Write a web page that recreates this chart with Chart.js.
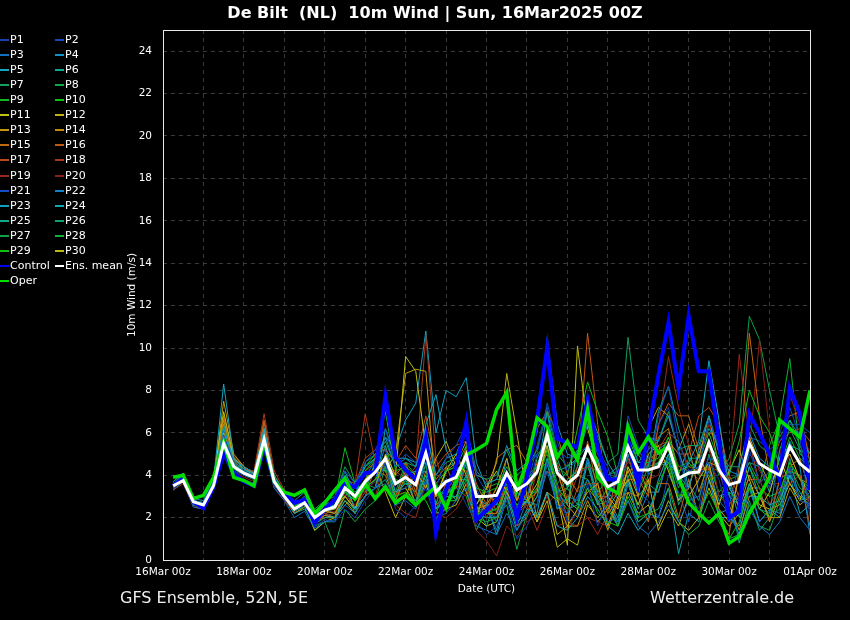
<!DOCTYPE html>
<html>
<head>
<meta charset="utf-8">
<script src="https://cdn.jsdelivr.net/npm/chart.js@4.4.1/dist/chart.umd.min.js"></script>
<style>
  html, body { margin: 0; padding: 0; background: #000; }
  #wrap { position: relative; width: 850px; height: 620px; background: #000; overflow: hidden; font-family: 'DejaVu Sans', sans-serif; color: #fff; }
  #chart { position: absolute; left: 0; top: 0; }
  .title { position: absolute; left: 0; width: 870px; top: 3px; text-align: center; font-weight: bold; font-size: 16px; white-space: pre; }
  .foot { position: absolute; top: 588px; font-size: 16px; white-space: pre; color: #eee; }
  .lg { position: absolute; font-size: 11px; line-height: 14px; white-space: pre; }
  .lg i { position: absolute; left: -10px; top: 6px; width: 9px; height: 2px; }
</style>
</head>
<body>
<div id="wrap">
  <canvas id="chart" width="850" height="620"></canvas>
  <div class="title">De Bilt  (NL)  10m Wind | Sun, 16Mar2025 00Z</div>
  <div class="foot" style="left:120px">GFS Ensemble, 52N, 5E</div>
  <div class="foot" style="left:650px">Wetterzentrale.de</div>
  <div id="legend"></div>
</div>
<script>
// 6-hourly steps from 16Mar 06z to 01Apr 00z (hours after 16Mar 00z)
const hours = Array.from({ length: 64 }, (_, i) => 6 * (i + 1));
const dateLabels = ['16Mar 00z', '18Mar 00z', '20Mar 00z', '22Mar 00z', '24Mar 00z',
                    '26Mar 00z', '28Mar 00z', '30Mar 00z', '01Apr 00z'];

// Ensemble members (m/s), four values per day
const p1 = [3.4,3.8,2.6,2.5, 3.4,5.2,4.2,4.0, 3.8,5.4,3.5,2.9, 2.3,2.6,1.6,1.9,
            1.8,2.4,2.0,2.8, 3.4,4.6,2.4,2.0, 2.6,3.4,1.9,2.4, 3.6,2.6,1.8,1.2,
            1.6,2.8,1.0,1.6, 2.6,4.6,3.4,1.8, 2.2,3.6,1.6,2.8, 4.4,6.0,3.2,5.2,
            6.4,7.2,5.0,3.0, 2.4,4.6,3.8,1.8, 2.6,5.2,3.6,4.2, 3.0,4.4,2.8,2.6];
const p2 = [3.6,4.0,2.8,2.7, 3.8,5.9,4.6,4.2, 4.0,5.8,3.9,3.1, 2.6,3.0,2.2,2.4,
            3.0,4.2,3.6,4.6, 5.2,6.2,4.4,5.0, 4.6,5.2,3.4,4.8, 5.4,6.4,4.0,3.2,
            2.8,4.0,2.4,3.0, 5.0,7.4,5.6,4.2, 4.8,6.6,5.4,3.2, 3.6,6.8,5.4,4.0,
            6.8,8.2,5.6,4.2, 4.4,6.6,5.4,3.6, 2.8,5.0,4.4,3.4, 6.0,7.2,5.8,2.0];
const p3 = [3.3,3.7,2.5,2.4, 3.3,4.9,3.9,3.8, 3.6,5.2,3.4,2.8, 2.0,2.3,1.5,1.8,
            1.9,2.6,2.2,3.0, 3.4,3.6,2.6,2.8, 2.4,3.8,2.0,2.2, 2.8,3.4,1.6,1.4,
            1.2,2.2,1.4,2.2, 2.6,4.2,2.6,2.2, 3.0,3.8,2.8,1.8, 2.0,2.8,1.6,1.2,
            1.8,2.6,1.8,2.8, 3.0,4.2,2.8,2.2, 1.2,2.4,1.6,1.2, 1.8,3.0,2.0,1.4];
const p4 = [3.7,4.1,2.9,2.8, 3.9,6.2,4.7,4.4, 4.1,6.0,3.9,3.2, 2.8,3.2,2.2,2.6,
            2.8,4.0,3.4,4.4, 4.8,5.8,4.4,4.8, 4.4,6.2,4.0,4.8, 5.0,6.2,4.2,3.6,
            3.8,5.4,4.2,4.6, 6.0,10.5,6.4,5.0, 4.8,6.4,5.0,4.0, 4.4,6.2,4.6,5.2,
            5.6,6.8,5.2,3.4, 5.2,6.8,5.0,4.2, 4.0,6.0,4.8,4.4, 4.2,5.6,4.4,1.2];
const p5 = [3.5,3.9,2.8,2.7, 3.8,8.3,4.8,4.3, 4.0,6.2,3.8,3.1, 2.4,2.9,2.0,2.4,
            2.6,3.6,2.4,3.0, 3.4,4.6,3.2,3.6, 3.6,6.4,7.8,5.2, 4.2,4.8,3.0,2.6,
            2.6,3.8,2.4,2.8, 2.0,3.2,1.6,1.4, 2.0,3.0,2.4,1.6, 1.2,2.2,1.4,2.0,
            3.8,5.0,3.6,4.6, 5.6,9.4,6.6,3.4, 2.6,4.4,3.0,2.6, 2.8,4.0,3.2,2.4];
const p6 = [3.4,3.9,2.7,2.5, 3.5,5.8,4.5,4.2, 3.9,5.9,3.8,3.0, 2.2,2.4,1.7,2.0,
            2.0,2.8,2.4,3.0, 3.4,3.8,2.8,3.0, 2.8,4.0,2.4,3.0, 3.0,4.0,2.2,2.0,
            2.0,3.0,1.8,2.2, 3.0,4.8,3.2,2.6, 5.2,7.2,6.0,4.6, 3.8,5.6,4.4,4.4,
            7.0,8.2,6.2,4.8, 4.2,5.6,4.4,3.6, 2.0,3.6,2.4,2.2, 5.2,6.6,5.8,5.0];
const p7 = [3.6,4.0,2.8,2.7, 3.7,6.3,4.6,4.3, 4.0,6.0,3.9,3.2, 2.6,3.0,2.4,2.8,
            3.0,4.4,3.6,4.4, 4.8,5.6,4.4,4.6, 4.4,6.0,4.0,4.6, 4.8,6.0,4.0,3.8,
            4.0,5.2,4.0,4.4, 5.2,7.0,5.0,4.4, 5.2,6.8,5.8,4.6, 5.0,10.5,6.6,5.8,
            5.6,7.0,5.2,5.4, 5.4,6.8,5.2,4.4, 4.4,6.4,5.4,5.0, 4.8,6.2,5.2,4.8];
const p8 = [3.5,3.9,2.7,2.6, 3.6,5.7,4.4,4.1, 3.9,5.8,3.7,3.0, 2.3,2.5,1.6,1.8,
            0.6,2.4,1.8,2.4, 2.8,4.4,2.8,3.0, 2.6,3.8,2.4,2.8, 2.8,3.8,2.0,1.8,
            2.0,2.6,0.5,2.2, 3.0,4.6,3.0,2.4, 2.6,3.8,3.0,2.4, 1.6,2.8,1.8,2.2,
            2.4,3.4,1.8,1.2, 1.6,2.8,1.8,1.0, 1.2,2.6,1.6,1.4, 2.8,4.4,3.4,3.0];
const p9 = [3.4,3.8,2.6,2.5, 3.6,5.5,4.3,4.0, 3.8,5.6,3.6,2.9, 2.6,2.6,2.0,2.6,
            2.8,5.3,3.6,4.2, 4.8,7.0,4.2,4.4, 3.8,5.4,3.6,4.2, 4.4,5.4,3.4,3.2,
            3.4,4.4,3.6,3.8, 4.4,6.2,4.4,4.0, 6.2,8.4,7.0,5.8, 4.0,5.8,4.6,4.6,
            4.8,5.8,4.2,4.4, 4.6,6.0,4.6,4.0, 5.6,8.0,6.8,6.0, 4.4,5.8,4.8,4.4];
const p10 = [3.6,4.1,2.8,2.7, 3.8,5.7,4.5,4.2, 4.0,5.9,3.8,3.1, 2.5,2.8,2.1,2.6,
             2.4,3.2,2.8,3.4, 3.8,4.4,3.0,3.2, 2.8,4.0,2.4,2.8, 3.0,4.0,2.2,2.2,
             2.4,3.4,2.6,2.8, 3.4,5.2,3.4,2.8, 2.4,3.4,2.2,1.8, 1.6,3.0,2.0,2.2,
             3.6,4.6,3.0,3.2, 2.2,3.2,2.2,1.0, 1.8,3.4,2.4,2.0, 3.2,4.6,3.8,3.4];
const p11 = [3.5,4.0,2.8,2.6, 3.9,7.0,4.8,4.3, 4.0,5.8,3.8,3.0, 2.3,2.6,1.4,1.8,
             2.0,2.8,2.2,3.0, 3.4,5.0,4.0,9.6, 8.9,5.3,3.0,4.2, 5.0,4.0,2.6,3.4,
             4.2,3.2,2.2,2.8, 3.6,5.4,3.0,0.7, 10.1,6.2,4.6,3.0, 2.4,4.4,3.4,5.0,
             5.4,4.2,2.8,3.4, 5.0,3.8,2.6,4.2, 5.2,3.8,2.4,3.2, 4.8,3.6,2.8,4.4];
const p12 = [3.4,3.8,2.7,2.5, 3.5,6.0,4.6,4.2, 3.9,5.7,3.8,3.0, 2.4,2.7,2.0,2.3,
             2.2,3.0,2.4,3.8, 4.4,3.2,2.0,3.0, 4.2,3.4,4.8,5.6, 4.4,3.2,2.0,3.4,
             4.6,8.8,6.0,3.0, 1.8,3.2,1.2,1.6, 2.4,3.2,3.6,1.6, 3.0,3.8,2.6,3.8,
             1.4,2.4,1.6,3.0, 3.8,4.6,2.4,1.8, 4.0,5.8,4.6,3.6, 4.4,5.0,3.8,3.6];
const p13 = [3.5,3.9,2.7,2.6, 3.7,7.5,5.0,4.4, 4.1,6.1,3.9,3.2, 2.5,2.8,2.0,2.3,
             2.6,3.0,2.4,3.6, 4.4,4.2,5.0,8.8, 9.0,8.9,3.0,4.2, 4.6,5.6,2.4,2.6,
             3.4,4.8,2.8,4.0, 2.0,3.2,2.8,1.6, 1.6,2.8,1.8,2.4, 3.2,4.2,3.0,6.2,
             7.2,6.8,5.2,6.4, 4.8,6.8,4.4,3.8, 2.4,4.0,3.0,2.0, 2.0,3.4,2.6,3.0];
const p14 = [3.4,3.8,2.6,2.5, 3.6,6.6,4.7,4.2, 3.9,5.8,3.7,3.0, 2.2,2.5,1.8,2.1,
             2.0,2.6,3.0,3.8, 4.2,4.0,2.8,4.0, 2.6,4.2,3.4,2.8, 2.8,5.2,3.2,2.2,
             2.2,3.4,3.6,2.8, 3.2,5.8,4.2,2.6, 2.0,3.4,2.8,1.4, 2.8,4.2,4.4,3.2,
             5.8,6.2,4.0,5.4, 3.2,4.6,4.4,2.6, 1.4,3.0,3.2,1.8, 3.0,4.4,4.8,3.2];
const p15 = [3.6,4.0,2.8,2.7, 3.7,6.8,4.9,4.4, 4.0,6.5,3.9,3.2, 2.5,2.9,2.3,2.6,
             2.8,3.2,3.6,4.2, 4.6,4.6,4.0,4.6, 3.2,5.6,3.8,4.4, 3.4,5.4,3.6,2.6,
             4.8,5.2,5.4,4.6, 6.2,7.0,6.0,4.0, 3.2,5.6,3.2,2.2, 2.8,3.2,3.0,1.8,
             3.6,3.6,2.0,3.8, 2.0,4.4,2.0,1.2, 4.4,10.7,6.8,4.0, 6.4,6.8,7.0,4.6];
const p16 = [3.4,3.8,2.6,2.5, 3.5,5.6,4.4,4.1, 3.8,5.7,3.6,2.9, 2.2,2.5,1.8,2.0,
             2.0,3.6,2.4,3.0, 4.4,4.2,3.0,4.2, 3.0,5.4,2.6,3.0, 4.4,4.2,3.2,2.4,
             3.4,3.4,3.6,2.8, 4.6,5.2,4.6,2.8, 4.4,10.7,6.4,2.8, 3.2,3.8,3.8,3.0,
             6.4,7.4,6.8,6.8, 5.2,6.0,5.8,3.6, 2.8,3.4,3.4,1.8, 3.8,4.2,4.0,1.6];
const p17 = [3.3,3.7,2.6,2.4, 3.5,6.7,4.6,4.0, 3.8,6.6,3.8,3.0, 2.2,2.5,1.8,2.1,
             2.6,3.8,3.6,4.8, 5.2,5.2,4.6,5.4, 4.8,6.8,4.4,5.0, 5.4,5.6,4.0,3.8,
             2.2,3.8,1.6,2.0, 3.4,4.2,3.6,2.0, 3.4,3.6,3.6,2.2, 4.2,5.4,5.2,4.4,
             5.4,5.6,5.0,5.0, 6.8,7.2,6.4,4.0, 3.0,5.6,3.6,4.2, 5.6,6.0,6.2,5.6];
const p18 = [3.4,3.8,2.7,2.6, 3.6,6.0,4.6,4.3, 4.2,6.9,4.2,3.3, 2.6,2.9,2.2,2.5,
             2.8,3.4,3.6,6.9, 4.6,4.4,4.2,3.8, 4.4,10.6,4.8,3.2, 4.0,4.0,3.2,2.0,
             2.8,3.2,3.0,2.4, 4.2,5.0,4.2,2.6, 4.0,4.4,4.2,2.4, 4.0,4.6,4.4,3.6,
             5.2,6.0,5.6,4.4, 4.2,4.4,4.2,2.6, 3.2,3.8,3.8,2.6, 3.4,3.6,4.0,2.6];
const p19 = [3.3,3.6,2.5,2.4, 3.3,5.0,4.0,3.8, 3.6,5.4,3.4,2.8, 2.2,2.5,1.8,2.1,
             2.2,3.0,2.5,3.2, 3.0,4.8,2.6,2.2, 2.0,3.6,3.2,2.4, 3.8,3.6,1.8,2.6,
             2.0,3.0,2.2,2.6, 1.4,2.6,3.2,1.4, 2.4,2.0,1.2,2.2, 2.8,4.8,3.6,4.6,
             6.2,9.6,7.2,5.4, 4.6,6.4,5.2,3.8, 9.7,5.8,4.2,3.6, 3.6,5.0,3.8,2.8];
const p20 = [3.4,3.8,2.6,2.5, 3.4,5.4,4.2,3.9, 3.7,5.5,3.5,2.9, 2.3,2.6,1.9,2.2,
             2.3,3.1,2.6,3.3, 3.7,4.4,3.1,3.2, 2.6,3.8,2.2,2.0, 2.4,3.2,1.4,0.9,
             0.2,1.6,1.1,1.8, 2.1,3.0,1.6,1.8, 1.6,2.0,1.8,1.6, 2.6,4.4,3.4,3.8,
             4.0,5.6,4.4,4.2, 3.8,5.4,3.0,2.6, 3.0,5.2,10.4,6.0, 4.8,7.8,6.4,5.0];
const p21 = [3.5,3.9,2.7,2.6, 3.6,5.4,4.3,4.0, 3.9,5.6,3.7,3.0, 2.4,2.6,1.9,2.3,
             2.7,3.6,3.4,4.0, 4.6,5.2,3.2,3.4, 3.8,4.2,3.4,3.8, 3.4,5.0,3.4,2.2,
             2.0,3.8,3.0,3.4, 5.4,7.2,5.2,4.8, 5.0,5.4,5.2,4.4, 2.8,5.4,3.2,2.8,
             2.0,4.0,3.2,1.8, 3.8,4.8,4.6,2.6, 4.6,5.8,5.6,5.2, 5.6,6.4,6.4,6.0];
const p22 = [3.6,4.0,2.8,2.6, 3.6,5.8,4.5,4.2, 4.0,5.8,3.8,3.1, 2.5,2.8,2.0,2.4,
             2.2,3.0,3.4,3.2, 3.8,5.4,3.0,4.2, 2.6,5.0,2.4,3.6, 2.8,4.8,2.0,2.6,
             1.4,3.2,1.6,2.8, 2.6,4.8,2.4,3.0, 2.8,4.8,3.0,3.0, 1.6,3.6,2.0,3.2,
             3.2,4.8,2.8,3.8, 2.0,3.8,2.2,2.4, 1.2,3.4,1.8,2.4, 2.2,4.2,2.8,3.2];
const p23 = [3.4,3.8,2.6,2.4, 3.5,6.4,4.6,4.2, 3.8,5.6,3.6,2.9, 2.3,2.6,1.8,2.2,
             2.0,3.0,3.4,3.4, 4.6,5.8,5.2,6.6, 7.4,10.8,6.0,8.0, 7.7,8.6,4.6,3.4,
             2.6,4.8,2.8,4.0, 4.0,7.0,4.2,4.4, 4.8,5.4,4.8,3.2, 2.6,5.0,3.0,3.6,
             5.2,5.6,5.0,4.0, 4.4,5.4,4.8,3.0, 2.6,3.0,3.0,2.0, 3.8,4.2,4.0,2.8];
const p24 = [3.5,3.9,2.7,2.5, 3.6,5.6,4.4,4.1, 3.9,6.6,3.8,3.0, 2.4,2.7,1.8,2.1,
             2.0,3.6,2.4,3.0, 3.4,6.2,4.8,4.8, 4.6,5.0,3.0,3.2, 3.4,5.0,2.2,2.6,
             1.2,3.0,1.4,2.4, 2.2,4.6,2.4,2.8, 2.4,4.6,2.6,2.8, 1.8,3.8,1.8,2.2,
             2.0,3.4,0.3,2.2, 1.8,3.8,2.0,2.0, 1.6,3.6,1.8,2.4, 2.0,4.0,2.2,2.6];
const p25 = [3.6,4.0,2.8,2.7, 3.8,6.0,4.6,4.3, 4.0,6.2,4.0,3.2, 2.6,2.9,2.2,2.6,
             2.8,4.2,3.0,4.6, 5.0,5.2,4.6,4.0, 4.2,4.6,3.4,3.0, 3.8,3.8,2.6,1.6,
             3.0,3.2,3.2,2.8, 4.8,5.8,4.8,3.4, 4.4,5.2,4.8,3.0, 4.2,5.2,5.0,4.2,
             4.6,4.6,4.0,3.4, 5.0,6.2,5.4,3.6, 3.6,4.6,4.4,3.2, 4.8,5.4,5.2,4.0];
const p26 = [3.4,3.8,2.6,2.5, 3.6,5.8,4.4,4.0, 3.8,5.6,3.6,2.9, 2.3,2.6,1.4,1.8,
             1.8,3.4,2.2,3.6, 3.4,4.8,2.8,3.8, 2.6,4.6,2.2,3.4, 2.8,4.6,2.0,2.6,
             1.8,3.6,2.0,3.2, 3.2,5.8,3.2,3.4, 2.6,4.8,2.8,3.0, 2.0,4.0,2.4,3.6,
             3.2,5.0,2.6,3.6, 2.8,5.0,3.0,3.2, 0.8,2.8,1.4,2.0, 2.4,4.8,2.8,3.0];
const p27 = [3.5,3.9,2.7,2.6, 3.7,5.9,4.5,4.2, 4.0,5.8,3.8,3.1, 2.5,2.8,2.1,2.4,
             2.6,3.6,3.2,3.8, 4.8,4.4,3.2,4.6, 4.0,4.4,2.6,4.4, 4.6,4.4,2.6,3.6,
             3.8,3.8,2.8,4.4, 5.0,5.4,3.6,4.2, 4.8,4.8,3.6,4.0, 4.2,4.8,3.6,4.8,
             5.0,4.8,3.4,4.8, 4.8,5.2,4.0,4.8, 6.4,11.5,10.4,8.0, 5.8,6.6,5.4,4.4];
const p28 = [3.6,4.0,2.8,2.6, 3.7,6.2,4.6,4.2, 4.1,6.0,3.9,3.1, 2.5,2.8,2.1,2.3,
             2.6,3.0,3.6,3.2, 4.6,4.2,3.0,4.4, 4.0,4.2,2.6,4.2, 4.4,4.2,2.2,3.4,
             3.6,3.4,2.4,4.0, 4.4,5.0,3.2,3.8, 4.2,4.4,3.2,3.8, 4.0,4.4,3.2,4.4,
             4.6,4.4,2.8,4.2, 4.2,4.4,3.2,3.8, 4.0,4.6,3.6,5.4, 6.6,9.5,5.0,4.6];
const p29 = [3.4,3.8,2.6,2.5, 3.5,5.6,4.4,4.1, 3.8,5.6,3.7,3.0, 2.4,2.7,2.0,2.3,
             2.5,3.6,3.4,4.4, 5.0,5.4,3.8,3.6, 3.2,2.8,1.8,3.2, 3.4,3.0,1.4,2.4,
             2.4,3.4,2.6,3.0, 4.2,4.6,2.8,3.4, 4.0,3.8,2.6,3.4, 3.6,3.6,2.6,4.0,
             4.6,5.8,4.4,4.6, 4.0,4.0,2.8,3.2, 2.8,4.4,3.4,3.0, 3.2,4.6,3.8,3.2];
const p30 = [3.5,3.9,2.8,2.6, 3.7,6.4,4.8,4.4, 4.1,6.2,4.0,3.2, 2.5,2.8,2.0,2.3,
             2.4,3.2,2.8,3.4, 3.8,4.4,3.2,3.4, 2.6,3.6,2.2,2.4, 2.6,3.6,2.0,1.6,
             1.8,3.2,2.4,2.8, 1.8,2.8,0.6,1.0, 0.7,2.6,2.0,2.6, 1.6,3.2,2.2,2.6,
             1.6,2.8,1.8,1.4, 2.0,3.4,2.2,1.6, 2.2,3.6,2.6,2.4, 2.6,3.6,3.0,2.6];

const control = [3.5,3.85,2.75,2.45, 3.45,5.05,4.1,3.7, 3.5,5.35,3.7,3.15, 2.7,2.85,1.75,2.4,
                 2.85,3.6,3.45,4.1, 4.15,7.7,4.85,4.25, 3.8,5.75,1.3,3.3, 4.4,6.5,1.9,2.35,
                 2.8,4.0,2.0,3.9, 6.6,10.0,5.75,5.5, 5.3,7.55,5.3,3.8, 3.8,5.65,3.6,6.0,
                 8.7,11.2,8.1,11.5, 8.9,8.9,5.6,2.0, 2.3,6.9,6.0,5.0, 3.8,8.1,6.9,3.3];
const ensMean = [3.5,3.75,2.75,2.6, 3.5,5.5,4.4,4.1, 3.9,5.7,3.7,3.0, 2.4,2.7,2.0,2.35,
                 2.5,3.4,3.0,3.7, 4.15,4.8,3.6,3.9, 3.55,5.05,3.2,3.7, 3.9,4.95,3.0,3.0,
                 3.05,4.1,3.3,3.6, 4.15,5.9,4.1,3.6, 4.0,5.3,4.25,3.45, 3.7,5.35,4.25,4.25,
                 4.4,5.4,3.85,4.1, 4.15,5.55,4.25,3.55, 3.7,5.5,4.55,4.25, 4.0,5.35,4.55,4.15];
const oper = [3.9,4.0,2.9,3.05, 3.9,5.55,3.9,3.75, 3.5,5.55,3.7,3.2, 3.05,3.3,2.2,2.7,
              3.3,3.85,2.9,3.6, 2.9,3.45,2.7,3.05, 2.6,3.05,3.45,2.45, 3.75,4.95,5.2,5.5,
              7.1,7.9,3.3,4.6, 6.7,6.3,4.85,5.6, 4.7,7.1,3.9,3.4, 3.15,6.3,5.05,5.8,
              5.05,5.35,3.9,2.7, 2.2,1.75,2.2,0.8, 1.1,2.2,3.0,3.9, 6.6,6.2,5.8,8.0];

const members = [p1, p2, p3, p4, p5, p6, p7, p8, p9, p10, p11, p12, p13, p14, p15,
                 p16, p17, p18, p19, p20, p21, p22, p23, p24, p25, p26, p27, p28, p29, p30];
const memberColors = ['#1240b0', '#1248b8', '#1270c0', '#1290c8', '#10a8c0', '#10a890',
                      '#10a060', '#10a840', '#10b820', '#10c010', '#c0c010', '#c0b010',
                      '#c09810', '#c08810', '#c06810', '#c05810', '#b84818', '#a83818',
                      '#982818', '#882018', '#1250c8', '#1280c8', '#10a0c0', '#10a8b0',
                      '#10a888', '#10a070', '#10a048', '#10b030', '#10c010', '#b8b810'];

const toPoints = (vals) => vals.map((v, i) => ({ x: hours[i], y: v }));

const datasets = members.map((m, k) => ({
    label: 'P' + (k + 1),
    data: toPoints(m),
    borderColor: memberColors[k],
    borderWidth: 1,
    order: 10 + k
}));
datasets.push({ label: 'Control', data: toPoints(control), borderColor: '#0000ff', borderWidth: 4, order: 3 });
datasets.push({ label: 'Ens. mean', data: toPoints(ensMean), borderColor: '#ffffff', borderWidth: 3, order: 1 });
datasets.push({ label: 'Oper', data: toPoints(oper), borderColor: '#00dd00', borderWidth: 3.5, order: 2 });

// white frame round the plot area
const framePlugin = {
    id: 'frame',
    afterDraw(chart) {
        const { ctx, chartArea: a } = chart;
        ctx.save();
        ctx.strokeStyle = '#e8e8e8';
        ctx.lineWidth = 1;
        ctx.strokeRect(a.left + 0.5, a.top + 0.5, a.right - a.left, a.bottom - a.top);
        ctx.restore();
    }
};

Chart.defaults.font.family = "'DejaVu Sans', sans-serif";
Chart.defaults.color = '#ffffff';

new Chart(document.getElementById('chart'), {
    type: 'line',
    data: { datasets },
    plugins: [framePlugin],
    options: {
        responsive: false,
        animation: false,
        layout: { padding: { left: 122, right: 40, top: 30, bottom: 20 } },
        elements: { point: { radius: 0 }, line: { tension: 0 } },
        plugins: { legend: { display: false }, tooltip: { enabled: false } },
        scales: {
            x: {
                type: 'linear',
                min: 0,
                max: 384,
                afterFit: (s) => { s.height = 40; },
                ticks: {
                    stepSize: 24,
                    autoSkip: false,
                    maxRotation: 0,
                    padding: 6,
                    font: { size: 10.5 },
                    callback: (v) => (v % 48 === 0 ? dateLabels[v / 48] : '')
                },
                grid: { color: '#3a3a3a', drawTicks: false },
                border: { display: false, dash: [4, 4] },
                title: { display: true, text: 'Date (UTC)', font: { size: 10.5 }, padding: { top: 2, bottom: 4 } }
            },
            y: {
                min: 0,
                max: 25,
                afterFit: (s) => { s.width = 41; },
                afterBuildTicks: (s) => { s.ticks = s.ticks.filter((t) => t.value % 2 === 0); },
                ticks: { stepSize: 2, padding: 11, font: { size: 10.5 } },
                grid: { color: '#3a3a3a', drawTicks: false },
                border: { display: false, dash: [4, 4] },
                title: { display: true, text: '10m Wind (m/s)', font: { size: 10.5 } }
            }
        }
    }
});

// legend, two entries per row like the original
const legend = document.getElementById('legend');
const legendItems = members.map((m, k) => ({ name: 'P' + (k + 1), color: memberColors[k] }));
legendItems.push({ name: 'Control', color: '#0000ff' });
legendItems.push({ name: 'Ens. mean', color: '#ffffff' });
legendItems.push({ name: 'Oper', color: '#00dd00' });
legendItems.forEach((it, k) => {
    const row = Math.floor(k / 2), col = k % 2;
    const d = document.createElement('div');
    d.className = 'lg';
    d.style.left = (col === 0 ? 10 : 65) + 'px';
    d.style.top = (33 + row * 15.06) + 'px';
    d.innerHTML = '<i style="background:' + it.color + '"></i>' + it.name;
    legend.appendChild(d);
});
</script>
</body>
</html>
